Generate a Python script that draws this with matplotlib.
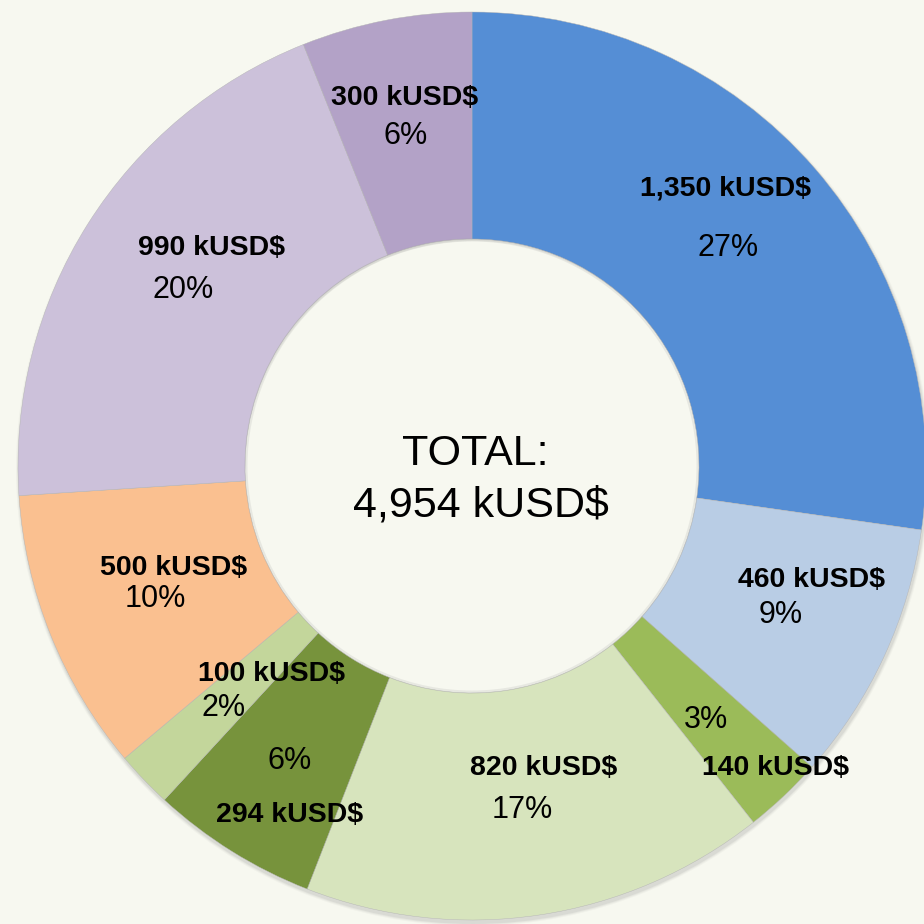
import matplotlib
matplotlib.use("Agg")
import matplotlib.pyplot as plt
from matplotlib.patches import Circle, Wedge

# --- data (kUSD$), clockwise from 12 o'clock ---
values = [1350, 460, 140, 820, 294, 100, 500, 990, 300]
colors = ["#558ED5", "#B9CDE5", "#9BBB59", "#D7E4BD", "#77933C",
          "#C3D69B", "#FAC090", "#CCC1DA", "#B3A2C7"]
amount_labels = ["1,350 kUSD$", "460 kUSD$", "140 kUSD$", "820 kUSD$", "294 kUSD$",
                 "100 kUSD$", "500 kUSD$", "990 kUSD$", "300 kUSD$"]
pct_labels = ["27%", "9%", "3%", "17%", "6%", "2%", "10%", "20%", "6%"]
total_lines = ["TOTAL:", "4,954 kUSD$"]

# label positions in pixels (x center, baseline y from top)
amt_pos = [(726, 196), (812, 587), (776, 775), (544, 775), (290, 822),
           (271, 681), (174, 575), (212, 255), (405, 105)]
pct_pos = [(728, 256), (781, 623), (706, 728), (522, 818), (290, 769),
           (224, 716), (155, 607), (183, 298), (406, 144)]

BG = "#F7F8F0"
W = H = 924
CX, CY, R = 472, H - 466, 454

fig = plt.figure(figsize=(9.24, 9.24), dpi=100, facecolor=BG)
ax = fig.add_axes([0, 0, 1, 1]); ax.set_facecolor(BG)

# soft shadow under the ring (outer edge, offset down)
for i, a in enumerate([0.05, 0.07, 0.10]):
    ax.add_patch(Wedge((CX + 1, CY - 3), R + 3 - i, 0, 360, width=R / 2,
                       color="#707070", alpha=a, lw=0, zorder=0))

ax.pie(values, colors=colors, startangle=90, counterclock=False,
       center=(CX, CY), radius=R, frame=True,
       wedgeprops=dict(width=R / 2, edgecolor="#b4b4b4", linewidth=0.3))
# faint shadow on the inner hole edge
ax.add_patch(Wedge((CX, CY), R / 2 + 0.5, 0, 360, width=3,
                   color="#909090", alpha=0.15, lw=0, zorder=2))
ax.set_xlim(0, W); ax.set_ylim(0, H); ax.set_aspect("equal"); ax.axis("off")

for txt, (x, y) in zip(amount_labels, amt_pos):
    ax.text(x, H - y, txt, ha="center", va="baseline", fontsize=20.5,
            fontweight="bold", family="Liberation Sans", color="black")
for txt, (x, y) in zip(pct_labels, pct_pos):
    ax.text(x, H - y, txt, ha="center", va="baseline", fontsize=22,
            family="Liberation Sans", color="black")

ax.text(475, H - 465, total_lines[0], ha="center", va="baseline",
        fontsize=31, family="Liberation Sans")
ax.text(481, H - 516, total_lines[1], ha="center", va="baseline",
        fontsize=31, family="Liberation Sans")

fig.savefig("out.png", dpi=100, facecolor=BG)
